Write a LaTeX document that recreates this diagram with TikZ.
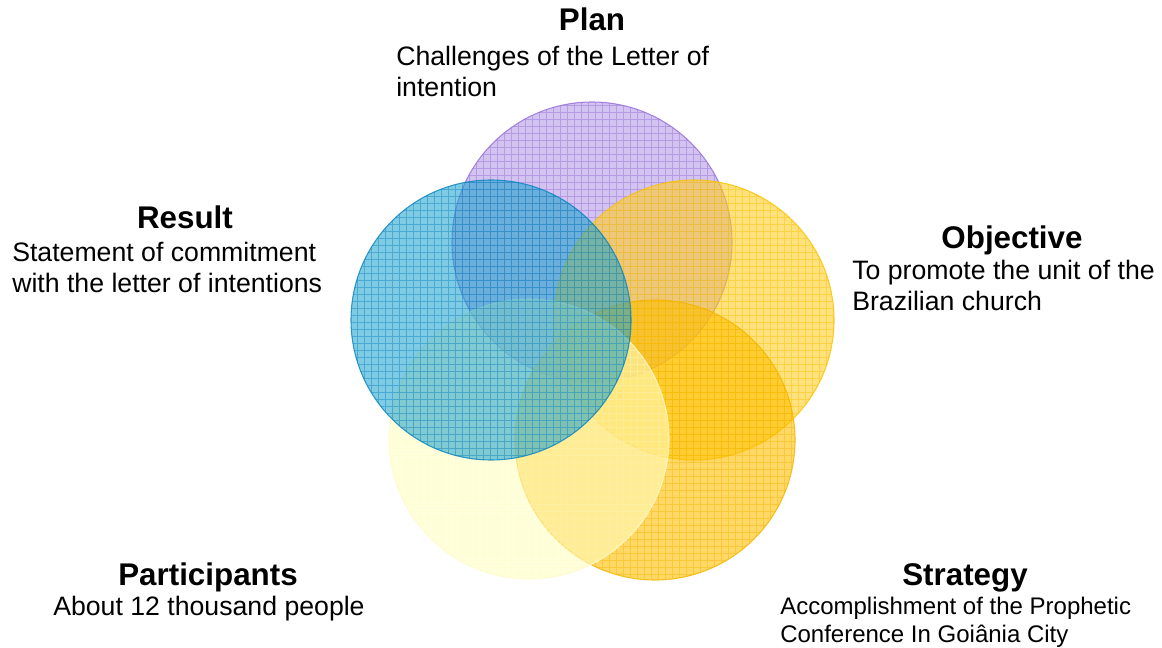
\documentclass[tikz,border=0pt]{standalone}
\usepackage{fontspec}
\setmainfont{Liberation Sans}
\definecolor{planF}{RGB}{180,155,230}
\definecolor{planL}{RGB}{150,110,215}
\definecolor{resF}{RGB}{22,160,205}
\definecolor{resL}{RGB}{10,130,190}
\definecolor{objF}{RGB}{255,205,40}
\definecolor{objL}{RGB}{250,195,0}
\definecolor{strF}{RGB}{255,190,0}
\definecolor{strL}{RGB}{245,180,0}
\definecolor{parF}{RGB}{255,255,190}
\definecolor{parL}{RGB}{255,250,205}
\tikzset{
  ttl/.style={font=\fontsize{23.5}{27}\selectfont\bfseries, anchor=base},
  body/.style={font=\fontsize{20}{23.25}\selectfont, align=left, anchor=north west, inner sep=0pt},
  bodys/.style={font=\fontsize{18}{21}\selectfont, align=left, anchor=north west, inner sep=0pt},
}
\newcommand{\venncirc}[5]{% x, y, fill, line, opacity
  \begin{scope}
    \fill[#3, fill opacity=#5] (#1,#2) circle[radius=105pt];
    \begin{scope}
      \clip (#1,#2) circle[radius=105pt];
      \draw[#4, line width=0.5pt, draw opacity=0.45, step=5.25pt] (#1-145,#2-145) grid (#1+145,#2+145);
    \end{scope}
    \draw[#4, line width=0.8pt, draw opacity=0.8] (#1,#2) circle[radius=105pt];
  \end{scope}
}
\begin{document}
\begin{tikzpicture}[x=0.75pt,y=-0.75pt]
\useasboundingbox (0,0) rectangle (1162,648);
% circles (Plan, Objective, Strategy, Participants, Result)
\venncirc{592}{242}{planF}{planL}{0.6}
\venncirc{694}{320}{objF}{objL}{0.6}
\venncirc{655}{440}{strF}{strL}{0.6}
\venncirc{529}{439}{parF}{parL}{0.55}
\venncirc{491}{320}{resF}{resL}{0.55}
% labels
\node[ttl] (planT) at (592,31) {Plan};
\node[body] (planB) at (396,46) {Challenges of the Letter of\\intention};
\node[ttl] (resT) at (185,229) {Result};
\node[body] (resB) at (12,242) {Statement of commitment\\with the letter of intentions};
\node[ttl] (objT) at (1012,249) {Objective};
\node[body] (objB) at (852,260) {To promote the unit of the\\Brazilian church};
\node[ttl] (parT) at (208,585) {Participants};
\node[body] (parB) at (53,596) {About 12 thousand people};
\node[ttl] (strT) at (965,585) {Strategy};
\node[bodys] (strB) at (780,597) {Accomplishment of the Prophetic\\Conference In Goiânia City};
\end{tikzpicture}
\end{document}
